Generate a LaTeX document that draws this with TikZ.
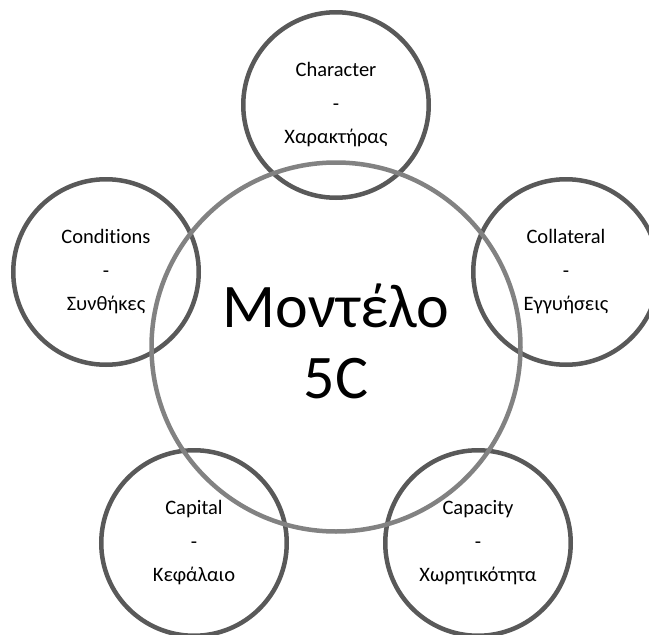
\documentclass[tikz,border=0pt]{standalone}
\usepackage{fontspec}
\setmainfont{Carlito}[Ligatures=NoCommon]
\definecolor{ringgray}{HTML}{595959}
\definecolor{hubgray}{HTML}{828282}
\tikzset{
  ring/.style={circle,draw=ringgray,line width=4.5pt,minimum size=185.5pt,inner sep=0pt},
  hub/.style={circle,draw=hubgray,line width=4.5pt,minimum size=369pt,inner sep=0pt},
  hubtext/.style={align=center,font=\fontsize{62}{71}\selectfont},
  ringtext/.style={align=center,font=\fontsize{20.5}{33.5}\selectfont}
}
\begin{document}
\begin{tikzpicture}[x=1pt,y=-1pt]
  \useasboundingbox (0,0) rectangle (649,635);
  % the five rings sit on a pentagon round the hub
  \coordinate (C) at (336,347);
  \node[ring] (Char) at (336,105) {};
  \node[ring] (Coll) at (566,272) {};
  \node[ring] (Capa) at (478,543) {};
  \node[ring] (Capi) at (194,543) {};
  \node[ring] (Cond) at (106,272) {};
  \node[hub] (Model) at (C) {};
  \node[hubtext] (Model-t) at (336,341) {Μοντέλο\\5C};

  \node[ringtext] (Char-t) at (Char) {Character\\-\\Χαρακτήρας};
  \node[ringtext] (Coll-t) at (Coll) {Collateral\\-\\Εγγυήσεις};
  \node[ringtext] (Capa-t) at (Capa) {Capacity\\-\\Χωρητικότητα};
  \node[ringtext] (Capi-t) at (Capi) {Capital\\-\\Κεφάλαιο};
  \node[ringtext] (Cond-t) at (Cond) {Conditions\\-\\Συνθήκες};
\end{tikzpicture}
\end{document}
